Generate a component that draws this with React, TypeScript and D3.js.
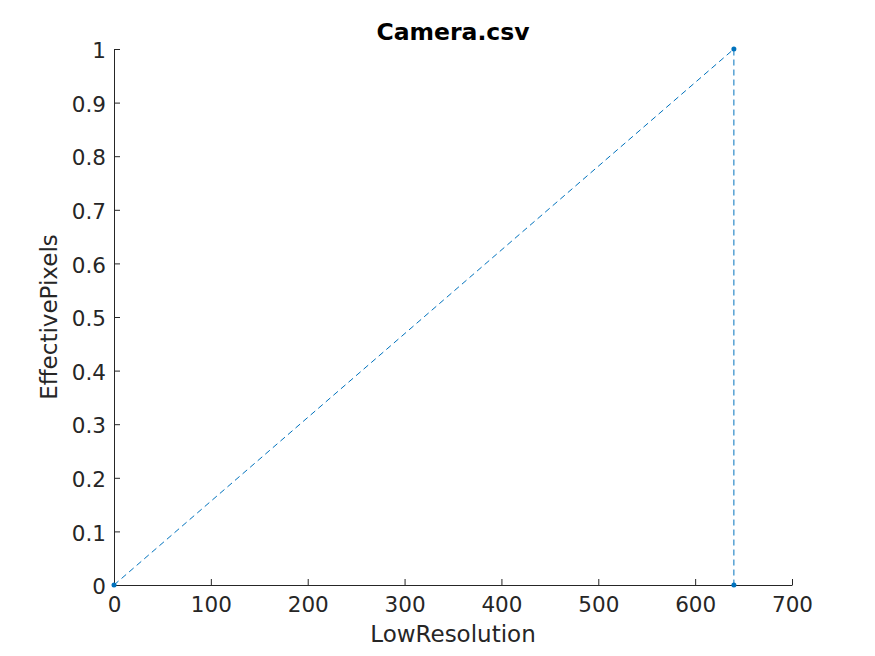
import React, { useRef, useEffect } from "react";
import * as d3 from "d3";

const xValues = [0, 640, 640];
const yValues = [0, 1, 0];
const xTicks = [0, 100, 200, 300, 400, 500, 600, 700];
const yTicks = [0, 0.1, 0.2, 0.3, 0.4, 0.5, 0.6, 0.7, 0.8, 0.9, 1];

const width = 875;
const height = 656;
const margin = { top: 49, right: 83, bottom: 71, left: 114 };

const App = () => {
  const ref = useRef<SVGSVGElement>(null);

  useEffect(() => {
    const svg = d3.select(ref.current);
    svg.selectAll("*").remove();

    const x = d3.scaleLinear().domain([0, 700]).range([margin.left, width - margin.right]);
    const y = d3.scaleLinear().domain([0, 1]).range([height - margin.bottom, margin.top]);
    const axisColor = "#262626";
    const font = "DejaVu Sans, sans-serif";

    // x axis, ticks point inward
    const gx = svg.append("g")
      .attr("transform", `translate(0, ${y(0)})`)
      .call(d3.axisBottom(x).tickValues(xTicks).tickSizeInner(-6).tickSizeOuter(0).tickPadding(12).tickFormat(d3.format("d")));
    gx.select(".domain").attr("stroke", axisColor);
    gx.selectAll(".tick line").attr("stroke", axisColor);
    gx.selectAll(".tick text").attr("fill", axisColor).attr("font-size", 21.5).attr("font-family", font);

    const gy = svg.append("g")
      .attr("transform", `translate(${x(0)}, 0)`)
      .call(d3.axisLeft(y).tickValues(yTicks).tickSizeInner(-6).tickSizeOuter(0).tickPadding(8).tickFormat((d) => String(+(+d).toFixed(1))));
    gy.select(".domain").attr("stroke", axisColor);
    gy.selectAll(".tick line").attr("stroke", axisColor);
    gy.selectAll(".tick text").attr("fill", axisColor).attr("font-size", 21.5).attr("font-family", font).attr("dy", "0.4em");

    const pts = xValues.map((v, i) => [v, yValues[i]] as [number, number]);
    const line = d3.line<[number, number]>().x((d) => x(d[0])).y((d) => y(d[1]));

    svg.append("path")
      .attr("d", line(pts))
      .attr("fill", "none")
      .attr("stroke", "#0072BD")
      .attr("stroke-width", 1)
      .attr("stroke-dasharray", "6,4");

    svg.selectAll(".pt")
      .data(pts)
      .enter().append("circle")
      .attr("class", "pt")
      .attr("cx", (d) => x(d[0]))
      .attr("cy", (d) => y(d[1]))
      .attr("r", 2.5)
      .attr("fill", "#0072BD");

    svg.append("text")
      .attr("x", (x(0) + x(700)) / 2)
      .attr("y", 40)
      .attr("text-anchor", "middle")
      .attr("font-family", font)
      .attr("font-weight", "bold")
      .attr("font-size", 23.5)
      .attr("fill", "#000")
      .text("Camera.csv");

    svg.append("text")
      .attr("x", (x(0) + x(700)) / 2)
      .attr("y", 642)
      .attr("text-anchor", "middle")
      .attr("font-family", font)
      .attr("font-size", 23)
      .attr("fill", axisColor)
      .text("LowResolution");

    svg.append("text")
      .attr("transform", `translate(57, ${(y(0) + y(1)) / 2}) rotate(-90)`)
      .attr("text-anchor", "middle")
      .attr("font-family", font)
      .attr("font-size", 23)
      .attr("fill", axisColor)
      .text("EffectivePixels");
  }, []);

  return (
    <svg ref={ref} width={width} height={height} style={{ position: "absolute", left: 0, top: 0, background: "#fff" }} />
  );
};

export default App;
